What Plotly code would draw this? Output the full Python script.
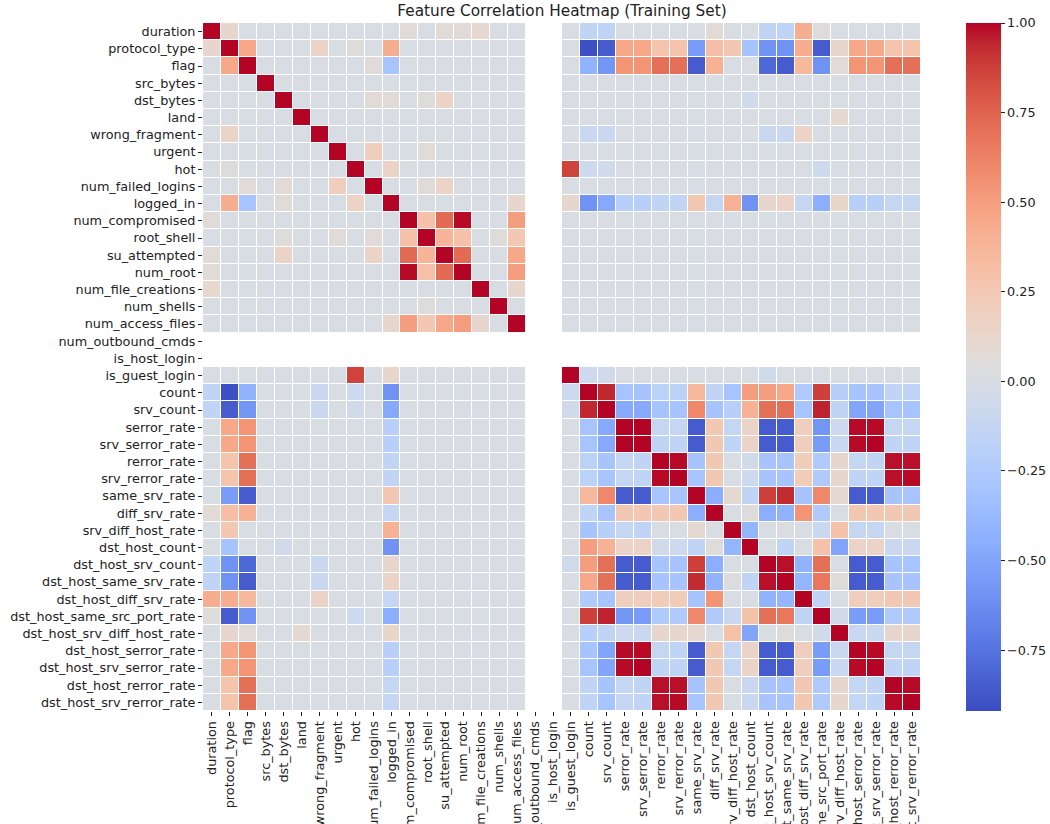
import numpy as np
import plotly.graph_objects as go

# 特征顺序（与热力图行/列一致）
features = [
    "duration", "protocol_type", "flag", "src_bytes", "dst_bytes", "land",
    "wrong_fragment", "urgent", "hot", "num_failed_logins", "logged_in",
    "num_compromised", "root_shell", "su_attempted", "num_root",
    "num_file_creations", "num_shells", "num_access_files",
    "num_outbound_cmds", "is_host_login", "is_guest_login", "count",
    "srv_count", "serror_rate", "srv_serror_rate", "rerror_rate",
    "srv_rerror_rate", "same_srv_rate", "diff_srv_rate", "srv_diff_host_rate",
    "dst_host_count", "dst_host_srv_count", "dst_host_same_srv_rate",
    "dst_host_diff_srv_rate", "dst_host_same_src_port_rate",
    "dst_host_srv_diff_host_rate", "dst_host_serror_rate",
    "dst_host_srv_serror_rate", "dst_host_rerror_rate",
    "dst_host_srv_rerror_rate",
]

# 常量列 -> 相关系数为 NaN
empty_features = ["num_outbound_cmds", "is_host_login"]

# 基础特征之间的相关系数（其余为 0）
basic_pairs = [
    ("duration", "protocol_type", 0.12),
    ("duration", "num_compromised", 0.07),
    ("duration", "su_attempted", 0.07),
    ("duration", "num_root", 0.07),
    ("duration", "num_file_creations", 0.11),
    ("protocol_type", "flag", 0.45),
    ("protocol_type", "wrong_fragment", 0.15),
    ("protocol_type", "hot", 0.05),
    ("protocol_type", "logged_in", 0.42),
    ("flag", "num_failed_logins", 0.06),
    ("flag", "logged_in", -0.3),
    ("dst_bytes", "num_failed_logins", 0.08),
    ("dst_bytes", "logged_in", 0.07),
    ("dst_bytes", "root_shell", 0.05),
    ("dst_bytes", "su_attempted", 0.15),
    ("urgent", "num_failed_logins", 0.2),
    ("urgent", "root_shell", 0.07),
    ("hot", "logged_in", 0.15),
    ("num_failed_logins", "root_shell", 0.06),
    ("num_failed_logins", "su_attempted", 0.15),
    ("logged_in", "num_access_files", 0.12),
    ("num_compromised", "root_shell", 0.3),
    ("num_compromised", "su_attempted", 0.72),
    ("num_compromised", "num_root", 0.99),
    ("num_compromised", "num_access_files", 0.5),
    ("root_shell", "su_attempted", 0.38),
    ("root_shell", "num_root", 0.3),
    ("root_shell", "num_shells", 0.05),
    ("root_shell", "num_access_files", 0.25),
    ("su_attempted", "num_root", 0.72),
    ("su_attempted", "num_access_files", 0.45),
    ("num_root", "num_access_files", 0.5),
    ("num_file_creations", "num_access_files", 0.12),
]

traffic_features = features[20:]

# protocol_type / flag / logged_in 与流量特征的相关系数
protocol_vs_traffic = [0.0, -0.9, -0.85, 0.45, 0.45, 0.28, 0.28, -0.55, 0.32, 0.25,
                       -0.3, -0.6, -0.6, 0.42, -0.85, 0.12, 0.45, 0.45, 0.28, 0.28]
flag_vs_traffic = [0.0, -0.42, -0.58, 0.55, 0.55, 0.7, 0.7, -0.85, 0.4, 0.0,
                   0.0, -0.8, -0.85, 0.35, -0.6, 0.06, 0.55, 0.55, 0.7, 0.7]
logged_in_vs_traffic = [0.12, -0.6, -0.48, -0.2, -0.2, -0.15, -0.15, 0.25, -0.12, 0.4,
                        -0.6, 0.12, 0.15, -0.12, -0.45, 0.13, -0.2, -0.2, -0.12, -0.12]

# 其它基础特征与流量特征的零星相关
cross_pairs = [
    ("duration", "count", -0.15),
    ("duration", "srv_count", -0.15),
    ("duration", "diff_srv_rate", 0.08),
    ("duration", "dst_host_srv_count", -0.15),
    ("duration", "dst_host_same_srv_rate", -0.15),
    ("duration", "dst_host_diff_srv_rate", 0.42),
    ("duration", "dst_host_same_src_port_rate", 0.05),
    ("dst_bytes", "dst_host_count", -0.05),
    ("land", "dst_host_srv_diff_host_rate", 0.1),
    ("wrong_fragment", "count", -0.1),
    ("wrong_fragment", "srv_count", -0.1),
    ("wrong_fragment", "dst_host_srv_count", -0.1),
    ("wrong_fragment", "dst_host_same_srv_rate", -0.1),
    ("wrong_fragment", "dst_host_diff_srv_rate", 0.15),
    ("hot", "is_guest_login", 0.86),
    ("hot", "count", -0.08),
    ("hot", "srv_count", -0.05),
    ("hot", "dst_host_same_src_port_rate", -0.08),
]

# 流量特征之间（下三角，第 i 行对应 traffic_features[i+1]）
traffic_lower = [
    [-0.08],
    [-0.05, 0.94],
    [0.0, -0.3, -0.48],
    [0.0, -0.3, -0.48, 1.0],
    [0.0, -0.18, -0.3, -0.12, -0.15],
    [0.0, -0.18, -0.3, -0.12, -0.15, 0.99],
    [0.0, 0.35, 0.6, -0.85, -0.85, -0.3, -0.3],
    [0.0, -0.15, -0.3, 0.25, 0.25, 0.25, 0.25, -0.45],
    [0.0, -0.3, -0.2, -0.12, -0.15, 0.0, 0.0, 0.1, 0.0],
    [0.0, 0.5, 0.4, 0.15, 0.15, -0.05, -0.08, -0.15, 0.05, -0.4],
    [-0.05, 0.5, 0.7, -0.85, -0.85, -0.3, -0.3, 0.87, -0.45, 0.0, 0.0],
    [0.0, 0.45, 0.7, -0.85, -0.85, -0.3, -0.3, 0.93, -0.42, 0.02, -0.15, 0.98],
    [0.0, -0.25, -0.3, 0.2, 0.2, 0.22, 0.22, -0.3, 0.55, 0.0, 0.0, -0.42, -0.4],
    [0.0, 0.87, 0.95, -0.58, -0.55, -0.25, -0.25, 0.6, -0.25, -0.1, 0.3, 0.7, 0.67, -0.15],
    [0.0, -0.2, -0.15, -0.08, -0.1, 0.12, 0.12, 0.1, 0.0, 0.3, -0.5, 0.0, 0.05, 0.0, -0.05],
    [0.0, -0.3, -0.5, 0.99, 0.99, -0.12, -0.15, -0.85, 0.25, -0.12, 0.15, -0.85, -0.85, 0.2, -0.55, -0.1],
    [0.0, -0.3, -0.5, 0.99, 1.0, -0.15, -0.15, -0.85, 0.25, -0.12, 0.15, -0.85, -0.85, 0.2, -0.55, -0.1, 0.99],
    [0.0, -0.15, -0.3, -0.12, -0.15, 0.98, 0.98, -0.3, 0.25, 0.0, -0.1, -0.3, -0.3, 0.25, -0.25, 0.12, -0.12, -0.15],
    [0.0, -0.15, -0.3, -0.12, -0.15, 0.98, 0.99, -0.3, 0.25, 0.0, -0.1, -0.3, -0.3, 0.25, -0.25, 0.12, -0.12, -0.15, 0.99],
]

colorbar_ticks = [1.0, 0.75, 0.5, 0.25, 0.0, -0.25, -0.5, -0.75]

# matplotlib coolwarm 采样
coolwarm_rgb = [
    (59, 76, 192), (68, 90, 204), (77, 104, 215), (87, 117, 225), (98, 130, 234),
    (108, 142, 241), (119, 154, 247), (130, 165, 251), (141, 176, 254), (152, 185, 255),
    (163, 194, 255), (174, 201, 253), (184, 208, 249), (194, 213, 244), (204, 217, 238),
    (213, 219, 230), (221, 221, 221), (229, 216, 209), (236, 211, 197), (241, 204, 185),
    (245, 196, 173), (247, 187, 160), (247, 177, 148), (247, 166, 135), (244, 154, 123),
    (241, 141, 111), (236, 127, 99), (229, 112, 88), (222, 96, 77), (213, 80, 66),
    (203, 62, 56), (192, 40, 47), (180, 4, 38),
]
coolwarm = [[i / (len(coolwarm_rgb) - 1), "rgb(%d,%d,%d)" % c] for i, c in enumerate(coolwarm_rgb)]

# ── 组装相关矩阵 ──
idx = {f: i for i, f in enumerate(features)}
corr = np.eye(len(features))


def put(a, b, r):
    corr[idx[a], idx[b]] = r
    corr[idx[b], idx[a]] = r


for a, b, r in basic_pairs + cross_pairs:
    put(a, b, r)
for name, row in (("protocol_type", protocol_vs_traffic),
                  ("flag", flag_vs_traffic),
                  ("logged_in", logged_in_vs_traffic)):
    for t, r in zip(traffic_features, row):
        put(name, t, r)
for i, row in enumerate(traffic_lower):
    for j, r in enumerate(row):
        put(traffic_features[i + 1], traffic_features[j], r)
for f in empty_features:
    corr[idx[f], :] = np.nan
    corr[:, idx[f]] = np.nan

z = [[None if np.isnan(v) else float(v) for v in row] for row in corr]

FONT = "DejaVu Sans"
TXT = "#222222"

fig = go.Figure(go.Heatmap(
    z=z, x=features, y=features,
    colorscale=coolwarm, zmin=-0.92, zmax=1.0,
    xgap=1, ygap=1,
    colorbar=dict(
        x=(966 - 203) / 718, xanchor="left", xpad=0,
        y=0.5, yanchor="middle", len=1.0, ypad=0,
        thickness=35, outlinewidth=0,
        tickvals=colorbar_ticks, tickformat=".2f",
        ticks="outside", ticklen=4, tickwidth=1, tickcolor=TXT,
        tickfont=dict(family=FONT, size=12.8, color=TXT),
    ),
))

fig.update_layout(
    width=1050, height=824,
    margin=dict(l=203, r=129, t=23, b=113, autoexpand=False),
    paper_bgcolor="white", plot_bgcolor="white",
    title=dict(
        text="Feature Correlation Heatmap (Training Set)",
        x=0.5, xref="paper", xanchor="center",
        y=1 - 11 / 824, yref="container", yanchor="middle",
        font=dict(family=FONT, size=15.3, color=TXT),
    ),
    font=dict(family=FONT, size=12.8, color=TXT),
)
# 底部标签与原图一样被画布下边缘截断
fig.update_xaxes(
    type="category", tickangle=-90, automargin=False,
    showgrid=False, zeroline=False, showline=False,
    ticks="outside", ticklen=4, tickwidth=1, tickcolor=TXT,
    tickfont=dict(family=FONT, size=12.8, color=TXT),
)
fig.update_yaxes(
    type="category", autorange="reversed", automargin=False,
    showgrid=False, zeroline=False, showline=False,
    ticks="outside", ticklen=4, tickwidth=1, tickcolor=TXT,
    tickfont=dict(family=FONT, size=12.8, color=TXT),
)

fig.write_html(
    "out.html",
    config={"displayModeBar": False},
    post_script="document.body.style.margin='0';",
)
